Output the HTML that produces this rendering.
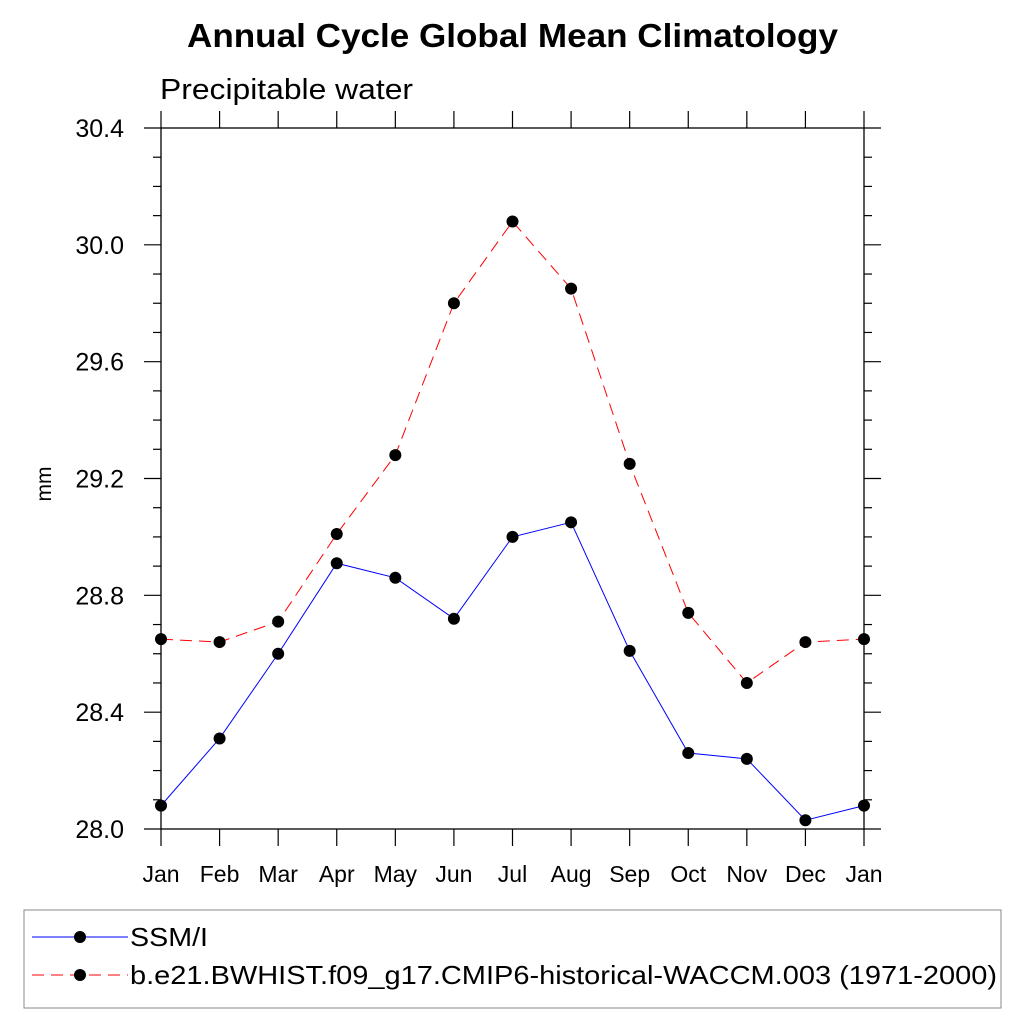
<!DOCTYPE html>
<html><head><meta charset="utf-8"><style>
body{margin:0;background:#fff;width:1024px;height:1024px;overflow:hidden}
svg text{font-family:"Liberation Sans",Arial,sans-serif}
</style></head><body>
<svg id="chart" width="1024" height="1024" xmlns="http://www.w3.org/2000/svg">
<text x="187" y="47" font-size="33" font-weight="bold" textLength="651" lengthAdjust="spacingAndGlyphs">Annual Cycle Global Mean Climatology</text>
<text x="160" y="99" font-size="29" textLength="253" lengthAdjust="spacingAndGlyphs">Precipitable water</text>
<text transform="translate(51,484) rotate(-90)" text-anchor="middle" font-size="21">mm</text>
<g id="axes"></g>
<g id="series"></g>
<g>
<rect x="24" y="910" width="977" height="98" fill="none" stroke="#888" stroke-width="1"/>
<line x1="32" y1="937" x2="128" y2="937" stroke="#00f" stroke-width="1"/>
<circle cx="80" cy="937" r="6" fill="#000"/>
<text x="130" y="946" font-size="26" textLength="78" lengthAdjust="spacingAndGlyphs">SSM/I</text>
<line x1="32" y1="975" x2="128" y2="975" stroke="#f00" stroke-width="1" stroke-dasharray="12,7"/>
<circle cx="80" cy="975" r="6" fill="#000"/>
<text x="130" y="984" font-size="26" textLength="867" lengthAdjust="spacingAndGlyphs">b.e21.BWHIST.f09_g17.CMIP6-historical-WACCM.003 (1971-2000)</text>
</g>
</svg>
<script>
const months=["Jan","Feb","Mar","Apr","May","Jun","Jul","Aug","Sep","Oct","Nov","Dec","Jan"];
const yTicks=["28.0","28.4","28.8","29.2","29.6","30.0","30.4"];
const ssmi=[28.08,28.31,28.60,28.91,28.86,28.72,29.00,29.05,28.61,28.26,28.24,28.03,28.08];
const model=[28.65,28.64,28.71,29.01,29.28,29.80,30.08,29.85,29.25,28.74,28.50,28.64,28.65];
const X0=161,X1=864,Y0=829,Y1=128,VMIN=28.0,VMAX=30.4;
function xs(i){return X0+(X1-X0)*i/(months.length-1);}
function ys(v){return Y0-(v-VMIN)/(VMAX-VMIN)*(Y0-Y1);}
const NS="http://www.w3.org/2000/svg";
function mk(p,tag,at){const e=document.createElementNS(NS,tag);for(const k in at)e.setAttribute(k,at[k]);p.appendChild(e);return e;}
const ax=document.getElementById('axes');
const fr=mk(ax,'rect',{x:X0,y:Y1,width:X1-X0,height:Y0-Y1,fill:'none',stroke:'#000','stroke-width':1.3});


const st={stroke:'#000','stroke-width':1.2};
months.forEach((m,i)=>{const x=xs(i);
mk(ax,'line',Object.assign({x1:x,x2:x,y1:Y0,y2:Y0+17},st));
mk(ax,'line',Object.assign({x1:x,x2:x,y1:Y1,y2:Y1-17},st));
const t=mk(ax,'text',{x:x,y:882,'text-anchor':'middle','font-size':23});t.textContent=m;

});
for(let k=0;k<=24;k++){const v=VMIN+k*0.1,y=ys(v),L=(k%4==0)?17:8;
mk(ax,'line',Object.assign({x1:X0-L,x2:X0,y1:y,y2:y},st));
mk(ax,'line',Object.assign({x1:X1,x2:X1+L,y1:y,y2:y},st));}
yTicks.forEach(s=>{const y=ys(parseFloat(s));const t=mk(ax,'text',{x:124,y:y+9,'text-anchor':'end','font-size':25});t.textContent=s;

});
const sg=document.getElementById('series');
function draw(arr,color,dash,name){
const pl=mk(sg,'polyline',{points:arr.map((v,i)=>xs(i)+','+ys(v)).join(' '),fill:'none',stroke:color,'stroke-width':1,'stroke-dasharray':dash});


arr.forEach((v,i)=>{const c=mk(sg,'circle',{cx:xs(i),cy:ys(v),r:6,fill:'#000'});

});}
draw(model,'#f00','12,7','model');
draw(ssmi,'#00f','none','ssmi');
</script>
</body></html>
